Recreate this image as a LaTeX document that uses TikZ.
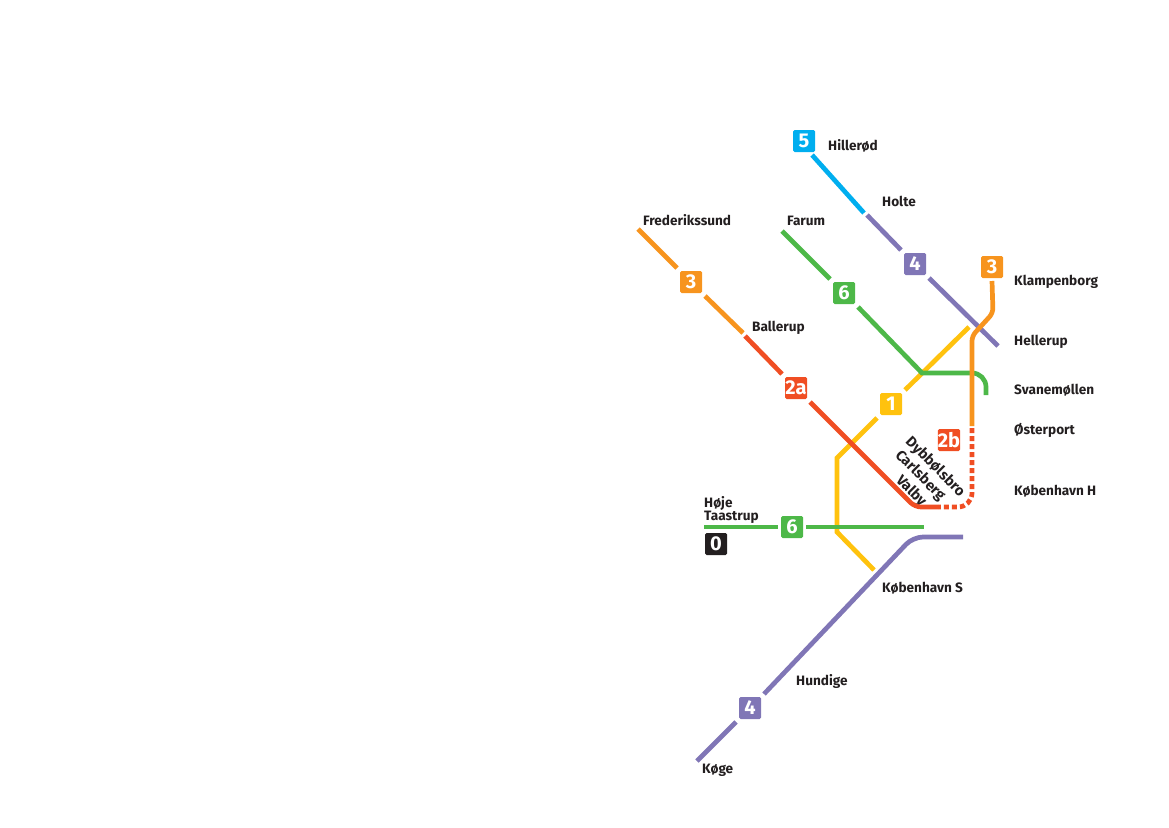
\documentclass[tikz,border=0pt]{standalone}
\usepackage{fontspec}
\setmainfont{Fira Sans}
\definecolor{linecyan}{HTML}{00AEEF}
\definecolor{linepurple}{HTML}{8076B6}
\definecolor{lineorange}{HTML}{F7941E}
\definecolor{linegreen}{HTML}{4DB848}
\definecolor{lineyellow}{HTML}{FFC20E}
\definecolor{linered}{HTML}{F04E23}
\definecolor{linegray}{HTML}{231F20}
\tikzset{
  badge/.style={fill=#1, text=white, rounded corners=1.5pt, minimum size=22pt, inner sep=0pt, outer sep=3pt, font=\fontsize{20}{20}\selectfont\bfseries},
  stn/.style={anchor=west, inner sep=0pt, text=linegray, font=\fontsize{13.6}{13}\selectfont\bfseries},
  stnrot/.style={rotate=-45, inner sep=0pt, text=linegray, font=\fontsize{14.6}{15}\selectfont\bfseries},
  route/.style={draw=#1, line width=4.7pt}
}
\begin{document}
\begin{tikzpicture}[x=1pt,y=-1pt]
            \useasboundingbox (0,0) rectangle (1169,827);

            \node[badge=linecyan] (five) at (804,141) {5};
            \node[badge=linepurple] (fourtop) at (915,264) {4};
            \node[badge=lineorange] (threeright) at (992,267) {3};
            \node[badge=lineorange] (threeleft) at (691,282) {3};
            \node[badge=linegreen] (sixtop) at (844,293) {6};
            \node[badge=lineyellow] (one) at (891,404) {1};
            \node[badge=linered] (twoa) at (796,388) {2a};
            \node[badge=linered] (twob) at (949,440) {2b};
            \node[badge=linegreen] (sixbottom) at (792,527) {6};
            \node[badge=linegray] (zero) at (716,544) {0};
            \node[badge=linepurple] (fourbottom) at (750,708) {4};

            \node[stn] (hillerod) at (828,146) {Hillerød};
            \node[stn] (holte) at (882,201) {Holte};
            \node[stn] (frederikssund) at (643,220) {Frederikssund};
            \node[stn] (farum) at (787,221) {Farum};
            \node[stn] (klampenborg) at (1014,282) {Klampenborg};
            \node[stn] (ballerup) at (752,328) {Ballerup};
            \node[stn] (hellerup) at (1014,342) {Hellerup};
            \node[stn] (svanemollen) at (1014,390) {Svanemøllen};
            \node[stn] (osterport) at (1014,430) {Østerport};
            \node[stn] (kbhh) at (1014,491) {København H};
            \node[stn, align=left] (hoje) at (704,510) {Høje\\Taastrup};
            \node[stn] (kbhs) at (882,588) {København S};
            \node[stn] (hundige) at (796,681) {Hundige};
            \node[stn] (koge) at (702,770) {Køge};

            \node[stnrot] (dybbolsbro) at (935,467) {Dybbølsbro};
            \node[stnrot] (carlsberg) at (920,476) {Carlsberg};
            \node[stnrot] (valby) at (911,491) {Valby};

            \coordinate (holteend) at (864,213);
            \coordinate (holtestart) at (867,215);
            \coordinate (hellerupend) at (998,346);
            \coordinate (fredend) at (638,229);
            \coordinate (ballerupend) at (743,333);
            \coordinate (ballerupstart) at (745,336);
            \coordinate (farumend) at (782,231);
            \coordinate (junction) at (922,373);
            \coordinate (svaneend) at (986,395);
            \coordinate (yellowtop) at (969,327);
            \coordinate (yellowend) at (874,570);
            \coordinate (orangeend) at (972,426);
            \coordinate (dotstart) at (972,428);
            \coordinate (dotend) at (938,507);
            \coordinate (greenleft) at (704,527);
            \coordinate (greenright) at (924,527);
            \coordinate (kogeend) at (697,761);
            \coordinate (purpleend) at (963,537);

            % lines under the others come first
            \draw[route=linecyan] (five.-60) -- (holteend);
            \draw[route=linepurple] (holtestart) -- (fourtop.north west);
            \draw[route=linepurple] (fourtop.south east) -- (hellerupend);
            \draw[route=linepurple] (kogeend) -- (fourbottom.south west);
            \draw[route=linepurple, rounded corners=10pt] (fourbottom.north east) -- (913,537) -- (purpleend);

            \draw[route=lineyellow] (yellowtop) -- (one.north east);
            \draw[route=lineyellow] (one.south west) -- (837,458) -- (837,532) -- (yellowend);

            \draw[route=lineorange] (fredend) -- (threeleft.north west);
            \draw[route=lineorange] (threeleft.south east) -- (ballerupend);
            \draw[route=linered] (ballerupstart) -- (twoa.north west);
            \draw[route=linered, rounded corners=6pt] (twoa.south east) -- (915,507) -- (dotend);
            \draw[route=linered, rounded corners=14pt, dash pattern=on 5pt off 3pt] (dotstart) -- (972,507) -- (dotend);

            \draw[route=linegreen] (farumend) -- (sixtop.north west);
            \draw[route=linegreen] (sixtop.south east) -- (junction) [rounded corners=14pt] -- (986,373) -- (svaneend);
            \draw[route=linegreen] (greenleft) -- (sixbottom.west);
            \draw[route=linegreen] (sixbottom.east) -- (greenright);

            \draw[route=lineorange, rounded corners=5pt] (threeright.south) -- (993,313) -- (972,336) -- (orangeend);
\end{tikzpicture}
\end{document}
